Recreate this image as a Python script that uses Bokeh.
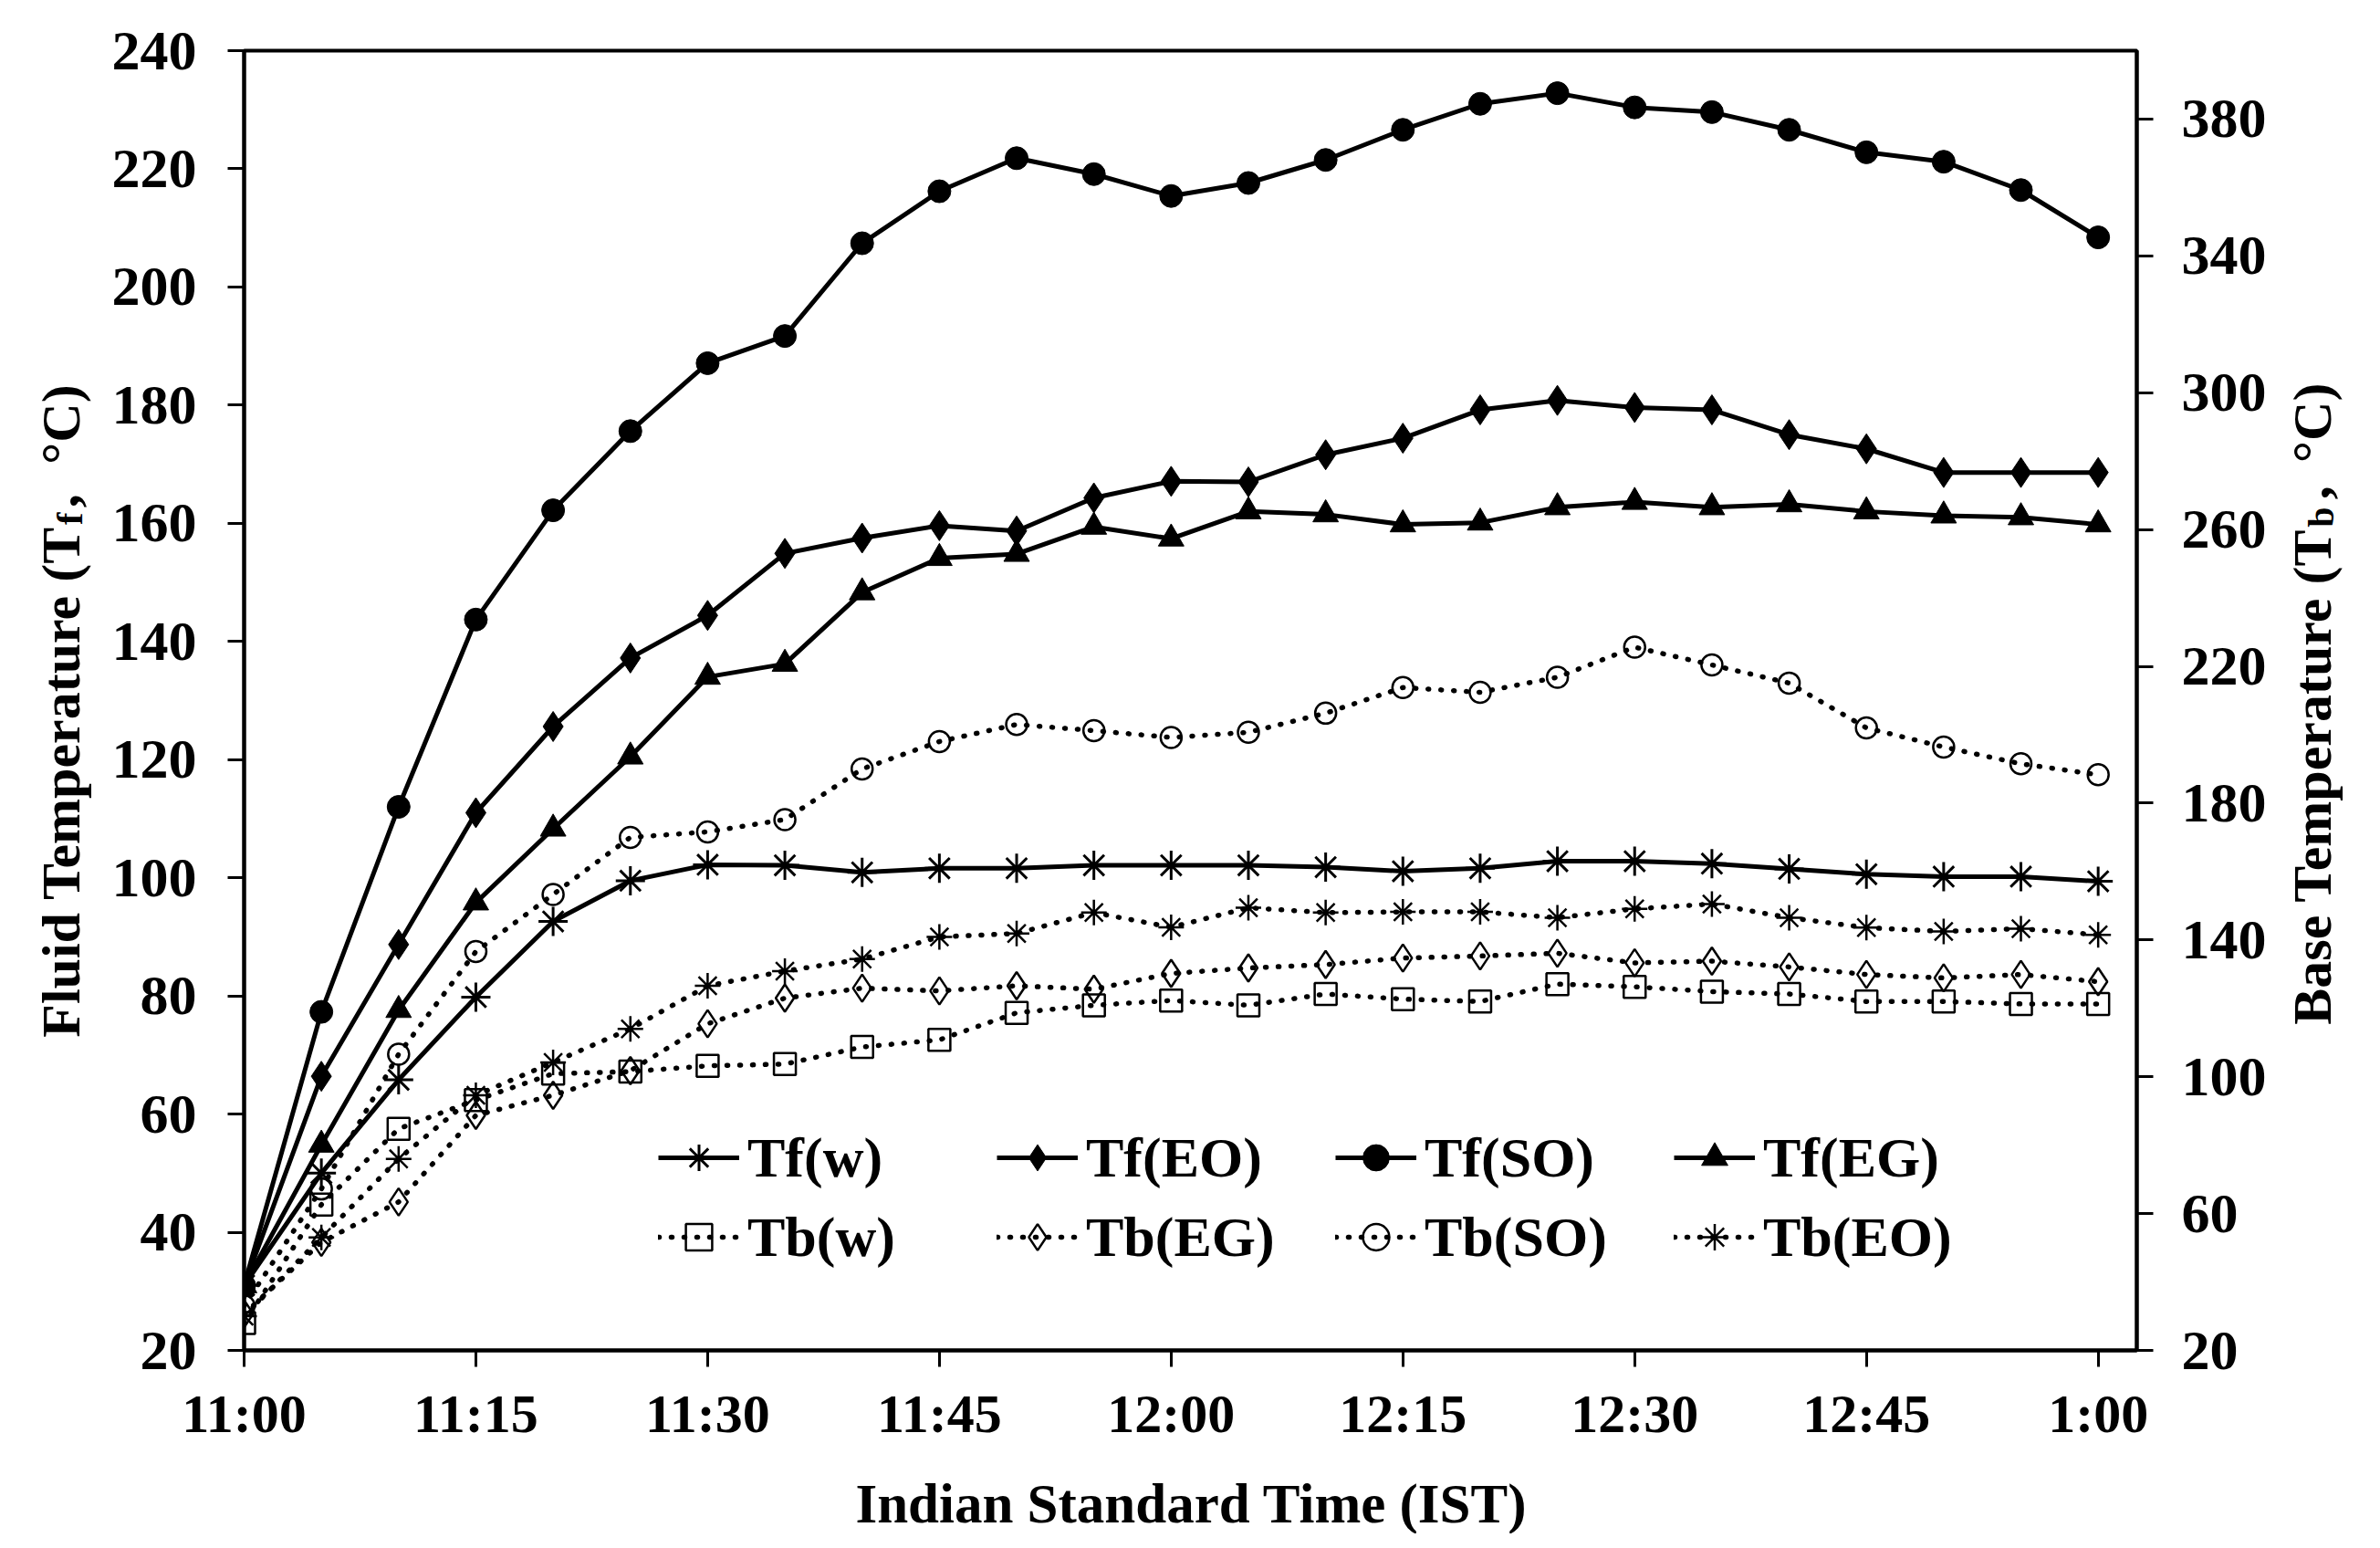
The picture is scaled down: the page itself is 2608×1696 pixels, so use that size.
import math
from bokeh.plotting import figure
from bokeh.layouts import row, column
from bokeh.models import Range1d, LinearAxis, FixedTicker, Legend, LegendItem
from bokeh.core.properties import value
from bokeh.embed import file_html
from bokeh.resources import INLINE

# ---------------- data ----------------
minutes = [0, 5, 10, 15, 20, 25, 30, 35, 40, 45, 50, 55, 60,
           65, 70, 75, 80, 85, 90, 95, 100, 105, 110, 115, 120]
tick_minutes = [0, 15, 30, 45, 60, 75, 90, 105, 120]
tick_labels = ["11:00", "11:15", "11:30", "11:45", "12:00", "12:15", "12:30", "12:45", "1:00"]
left_ticks = [20, 40, 60, 80, 100, 120, 140, 160, 180, 200, 220, 240]
right_ticks = [20, 60, 100, 140, 180, 220, 260, 300, 340, 380]

# Fluid temperatures (left axis, deg C)
tf_w = [31, 50, 65.8, 79.8, 92.6, 99.5, 102.2, 102.1, 100.9, 101.6, 101.6, 102.1, 102.1,
        102.1, 101.8, 101.1, 101.6, 102.8, 102.8, 102.4, 101.5, 100.6, 100.2, 100.2, 99.4]
tf_eo = [31, 66.4, 88.7, 111, 125.6, 137.2, 144.4, 154.9, 157.5, 159.6, 158.7, 164.3, 167.1,
         167, 171.6, 174.4, 179.2, 180.8, 179.6, 179.2, 175, 172.6, 168.6, 168.6, 168.6]
tf_so = [31, 77.3, 112, 143.7, 162.2, 175.6, 187.1, 191.7, 207.4, 216.2, 221.8, 219.1, 215.4,
         217.6, 221.5, 226.6, 231, 232.8, 230.4, 229.6, 226.6, 222.8, 221.2, 216.4, 208.4]
tf_eg = [31, 54.8, 77.6, 95.8, 108.3, 120.5, 134, 136.2, 148.3, 154.1, 154.8, 159.4, 157.4,
         162, 161.5, 159.8, 160.1, 162.7, 163.6, 162.7, 163.2, 162, 161.3, 161, 159.8]

# Base temperatures (right axis, deg C)
tb_w = [28, 62.6, 84.8, 93.2, 100.9, 101.5, 103.2, 103.7, 108.7, 110.8, 118.7, 120.9, 122.3,
        120.9, 124.2, 122.7, 122, 127.1, 126.3, 124.9, 124.2, 122, 122, 121.3, 121.3]
tb_eg = [30.7, 51.6, 63.4, 88.7, 94.6, 101.8, 115.5, 123, 125.9, 125.1, 126.6, 125.6, 130.2,
         131.8, 132.8, 134.7, 135.3, 136.1, 133.3, 133.8, 132.1, 129.9, 128.9, 129.9, 127.8]
tb_so = [33, 67.2, 106.6, 136.6, 153.3, 170, 171.6, 175.2, 190, 198, 203, 201.2, 199.2,
         200.7, 206.3, 213.8, 212.4, 216.8, 225.6, 220.4, 215.1, 202, 196.4, 191.5, 188.3]
tb_eo = [30, 53, 76, 94.6, 104.2, 114, 126.6, 130.9, 134.4, 140.9, 141.9, 148, 143.7,
         149.4, 148, 148.2, 148.2, 146.5, 149.1, 150.5, 146.5, 143.6, 142.5, 143.3, 141.5]

# ---------------- layout constants (page pixels) ----------------
TOTAL_W = 2592
TOP_H = 1590           # height of the row holding the chart
BOT_H = 90             # strip below holding the x-axis title
LEFT_W = 110           # strip left of the chart (y title)
RIGHT_X0 = 2500        # start of strip right of the chart (right y title)
FRAME_L, FRAME_T, FRAME_W, FRAME_H = 267, 55, 2074, 1424
X_MAX = 122.5
FONT = "Liberation Serif"
MAIN_W = RIGHT_X0 - LEFT_W
BASE_FIX = 17          # text-box baseline correction of the text glyph

p = figure(width=MAIN_W, height=TOP_H, x_range=Range1d(0, X_MAX), y_range=Range1d(20, 240),
           output_backend="svg", toolbar_location=None,
           min_border_left=FRAME_L - LEFT_W, min_border_top=FRAME_T,
           min_border_right=RIGHT_X0 - (FRAME_L + FRAME_W),
           min_border_bottom=TOP_H - FRAME_T - FRAME_H)
p.extra_y_ranges = {"tb": Range1d(20, 400)}
p.background_fill_color = "white"
p.border_fill_color = "white"
p.outline_line_color = "black"
p.outline_line_width = 4
p.xgrid.visible = False
p.ygrid.visible = False

raxis = LinearAxis(y_range_name="tb")
p.add_layout(raxis, "right")

xa = p.xaxis[0]
ya = p.yaxis[0]
xa.ticker = FixedTicker(ticks=tick_minutes, minor_ticks=[])
xa.major_label_overrides = {m: lab for m, lab in zip(tick_minutes, tick_labels)}
ya.ticker = FixedTicker(ticks=left_ticks, minor_ticks=[])
raxis.ticker = FixedTicker(ticks=right_ticks, minor_ticks=[])

for ax, stand, fs in ((xa, 18, "60px"), (ya, 34, "62px"), (raxis, 31, "62px")):
    ax.axis_line_color = "black"
    ax.axis_line_width = 4
    ax.major_tick_line_color = "black"
    ax.major_tick_line_width = 3
    ax.major_tick_out = 18
    ax.major_tick_in = 0
    ax.minor_tick_out = 0
    ax.minor_tick_in = 0
    ax.major_label_text_font = FONT
    ax.major_label_text_font_style = "bold"
    ax.major_label_text_font_size = fs
    ax.major_label_text_color = "black"
    ax.major_label_standoff = stand

# ---------------- series ----------------
SOLID_W = 5
DOT = dict(line_width=5.5, line_dash="1 13", line_cap="round", line_color="black")

l_tfw = p.line(minutes, tf_w, line_color="black", line_width=SOLID_W)
l_tfeo = p.line(minutes, tf_eo, line_color="black", line_width=SOLID_W)
l_tfso = p.line(minutes, tf_so, line_color="black", line_width=SOLID_W)
l_tfeg = p.line(minutes, tf_eg, line_color="black", line_width=SOLID_W)

l_tbw = p.line(minutes, tb_w, y_range_name="tb", **DOT)
l_tbeg = p.line(minutes, tb_eg, y_range_name="tb", **DOT)
l_tbso = p.line(minutes, tb_so, y_range_name="tb", **DOT)
l_tbeo = p.line(minutes, tb_eo, y_range_name="tb", **DOT)

# open markers (base temperature)
m_tbw = p.scatter(minutes, tb_w, y_range_name="tb", marker="square", size=24,
                  fill_alpha=0, line_color="black", line_width=2.5)
m_tbeg = p.scatter(minutes, tb_eg, y_range_name="tb", marker="diamond", size=30,
                   fill_alpha=0, line_color="black", line_width=2.5)
m_tbso = p.scatter(minutes, tb_so, y_range_name="tb", marker="circle", size=23,
                   fill_alpha=0, line_color="black", line_width=2.5)
m_tbeo = p.scatter(minutes, tb_eo, y_range_name="tb", marker="asterisk", size=28,
                   line_color="black", line_width=2.5)

# filled markers (fluid temperature)
m_tfw = p.scatter(minutes, tf_w, marker="asterisk", size=32, line_color="black", line_width=3)
m_tfeo = p.scatter(minutes, tf_eo, marker="diamond", size=33,
                   fill_color="black", line_color="black", line_width=1)
m_tfso = p.scatter(minutes, tf_so, marker="circle", size=25,
                   fill_color="black", line_color="black", line_width=1)
m_tfeg = p.scatter(minutes, tf_eg, marker="triangle", size=28,
                   fill_color="black", line_color="black", line_width=1)

# ---------------- legends (two rows) ----------------
row1 = [LegendItem(label="Tf(w)", renderers=[l_tfw, m_tfw]),
        LegendItem(label="Tf(EO)", renderers=[l_tfeo, m_tfeo]),
        LegendItem(label="Tf(SO)", renderers=[l_tfso, m_tfso]),
        LegendItem(label="Tf(EG)", renderers=[l_tfeg, m_tfeg])]
row2 = [LegendItem(label="Tb(w)", renderers=[l_tbw, m_tbw]),
        LegendItem(label="Tb(EG)", renderers=[l_tbeg, m_tbeg]),
        LegendItem(label="Tb(SO)", renderers=[l_tbso, m_tbso]),
        LegendItem(label="Tb(EO)", renderers=[l_tbeo, m_tbeo])]

BOTTOM = FRAME_T + FRAME_H
for items, cy in ((row1, 1268), (row2, 1355)):
    leg = Legend(items=items, orientation="horizontal",
                 location=(721 - FRAME_L, BOTTOM - (cy + 36)),
                 glyph_width=89, glyph_height=72, label_height=72, label_width=263,
                 label_standoff=9, spacing=10, padding=0, margin=0,
                 border_line_alpha=0, background_fill_alpha=0,
                 label_text_font=FONT, label_text_font_style="bold",
                 label_text_font_size="62px", label_text_color="black")
    p.add_layout(leg)


# ---------------- title strips ----------------
def strip(w, h):
    f = figure(width=w, height=h, x_range=Range1d(0, w), y_range=Range1d(0, h),
               output_backend="svg", toolbar_location=None,
               x_axis_location=None, y_axis_location=None,
               min_border_left=0, min_border_right=0, min_border_top=0, min_border_bottom=0)
    f.outline_line_color = None
    f.xgrid.visible = False
    f.ygrid.visible = False
    f.background_fill_color = "white"
    f.border_fill_color = "white"
    return f


def put(f, x, y, text, size, align="left", angle=math.pi / 2):
    f.text(x=[x], y=[y], text=[text], angle=angle, text_align=align,
           text_baseline="alphabetic", text_font=value(FONT), text_font_style="bold",
           text_font_size=value(size), text_color="black")


# left strip: page x 0..LEFT_W, page y 0..TOP_H ; baseline given as page x
lf = strip(LEFT_W, TOP_H)
def lput(px, py, text, size, align="left"):
    put(lf, px - BASE_FIX, TOP_H - py, text, size, align)

lput(83, 582, "Fluid Temperature (T", "60px", align="right")
lput(93, 580, "f", "40px")
lput(83, 559, ",", "60px")
lput(83, 506, "\u00b0C)", "60px")

# right strip: page x RIGHT_X0..TOTAL_W
rf = strip(TOTAL_W - RIGHT_X0, TOP_H)
def rput(px, py, text, size, align="left"):
    put(rf, px - RIGHT_X0 - 12, TOP_H - py, text, size, align)

rput(2545, 585, "Base Temperature (T", "60px", align="right")
rput(2555, 583, "b", "40px")
rput(2545, 549, ",", "60px")
rput(2545, 504, "\u00b0C)", "60px")

# bottom strip: page y TOP_H..TOP_H+BOT_H
bf = strip(TOTAL_W, BOT_H)
put(bf, 1305, TOP_H + BOT_H - 1664 + BASE_FIX, "Indian Standard Time (IST)", "61px",
    align="center", angle=0)

layout = column(row(lf, p, rf), bf)
open("out.html", "w").write(file_html(layout, INLINE))
